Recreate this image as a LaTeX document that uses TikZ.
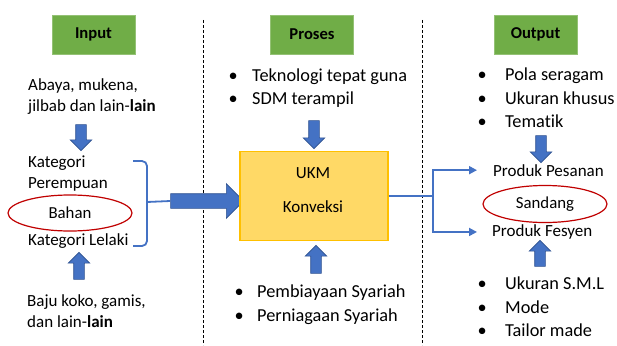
\documentclass[tikz,border=0pt]{standalone}
\usepackage{fontspec}
\setmainfont{Carlito}[Ligatures=NoCommon]
\usetikzlibrary{shapes.geometric,shapes.arrows,arrows.meta,positioning,calc}
\definecolor{headgreen}{HTML}{70AD47}
\definecolor{flowblue}{HTML}{4472C4}
\definecolor{flowedge}{HTML}{2F528F}
\definecolor{ukmfill}{HTML}{FFD966}
\definecolor{ukmedge}{HTML}{FFC000}
\definecolor{ringred}{HTML}{C00000}
% bullet item: bullet in a box of width #1, then the text
\newcommand{\bul}[2]{\makebox[#1][l]{\textbullet}#2}

\begin{document}
\begin{tikzpicture}[
    x=1pt, y=-1pt,
    >=Latex,
    header/.style={draw=headgreen!75!white, fill=headgreen, minimum width=83pt, minimum height=39pt, inner sep=0pt, font=\fontsize{16.6}{20}\selectfont\bfseries},
    txt/.style={align=left, anchor=base west, inner sep=0pt, font=\fontsize{17}{21}\selectfont},
    points/.style={txt, font=\fontsize{18.3}{23.5}\selectfont},
    ring/.style={draw=ringred, ellipse, line width=1.2pt, minimum width=124pt, minimum height=36pt, inner sep=0pt, font=\fontsize{16.8}{20}\selectfont},
    blockarrow/.style={single arrow, draw=flowedge, fill=flowblue, line width=0.6pt, inner sep=5pt, single arrow head extend=5.5pt, single arrow tip angle=90},
    link/.style={draw=flowblue, line width=1.8pt},
    divider/.style={line width=0.8pt, dash pattern=on 3pt off 2pt}
]
    \useasboundingbox (0,0) rectangle (617,345);

    % Judul kolom
    \node[header] (input) at (93.5,34.5) {Input};
    \node[header] (proses) at (312,34.5) {Proses};
    \node[header] (output) at (535.5,34.5) {Output};

    % Garis pemisah kolom
    \draw[divider] (203.5,20) -- (203.5,345);
    \draw[divider] (422.5,20) -- (422.5,345);

    % Kolom input (titik jangkar = garis dasar baris terakhir)
    \node[txt] (abaya) at (28,111) {Abaya, mukena,\\jilbab dan lain-\textbf{lain}};
    \node[blockarrow, rotate=-90, minimum height=26pt] (abayadown) at (81,135) {};
    \node[txt] (perempuan) at (28,188) {Kategori\\Perempuan};
    \node[ring] (bahan) at (70,213) {Bahan};
    \node[txt] (lelaki) at (28,245) {Kategori Lelaki};
    \node[blockarrow, rotate=90, minimum height=27pt] (bajuup) at (79,268.5) {};
    \node[txt] (baju) at (27,327) {Baju koko, gamis,\\dan lain-\textbf{lain}};

    % Kurung kurawal ke proses
    \coordinate (bracetip) at (147,202);
    \draw[link, rounded corners=5pt] (133,161) -| (bracetip) |- (133,246);
    \node[blockarrow, inner sep=7pt, single arrow head extend=10pt, minimum height=73pt] (feed) at (203.5,201) {};
    \draw[link] (bracetip) -- (feed.tail);

    % Kolom proses
    \node[points] (tools) at (228.5,104.5) {\bul{23.5pt}{Teknologi tepat guna}\\\bul{23.5pt}{SDM terampil}};
    \node[blockarrow, rotate=-90, minimum height=28pt] (toolsdown) at (314,132) {};
    \node[draw=ukmedge, fill=ukmfill, line width=1.2pt, minimum width=148pt, minimum height=89pt] (ukm) at (314,196) {};
    \node[txt, anchor=base] (ukmname) at (313,178) {UKM};
    \node[txt, anchor=base] (konveksi) at (313,212) {Konveksi};
    \node[blockarrow, rotate=90, minimum height=28pt] (fundup) at (316,262) {};
    \node[points] (fund) at (234.5,321) {\bul{22.5pt}{Pembiayaan Syariah}\\\bul{22.5pt}{Perniagaan Syariah}};

    % Kolom output
    \node[points] (pesan) at (477.5,127.5) {\bul{27.5pt}{Pola seragam}\\\bul{27.5pt}{Ukuran khusus}\\\bul{27.5pt}{Tematik}};
    \node[blockarrow, rotate=-90, minimum height=27pt] (pesandown) at (541,146.5) {};
    \node[txt] (pesanan) at (493,176) {Produk Pesanan};
    \node[ring, minimum height=37pt] (sandang) at (545,204) {Sandang};
    \node[txt] (fesyen) at (492,236.5) {Produk Fesyen};
    \node[blockarrow, rotate=90, minimum height=26pt] (fesyenup) at (540,256) {};
    \node[points] (mode) at (477.5,336.5) {\bul{27.5pt}{Ukuran S.M.L}\\\bul{27.5pt}{Mode}\\\bul{27.5pt}{Tailor made}};

    % Percabangan hasil
    \coordinate[right=44pt of ukm.east] (split);
    \draw[link] (ukm.east) -- (split);
    \draw[link, -{Triangle[length=8pt, width=8pt]}] (split) |- ([xshift=-16pt]pesanan.west);
    \draw[link, -{Triangle[length=8pt, width=8pt]}] (split) |- ([xshift=-15pt]fesyen.west);

\end{tikzpicture}
\end{document}
